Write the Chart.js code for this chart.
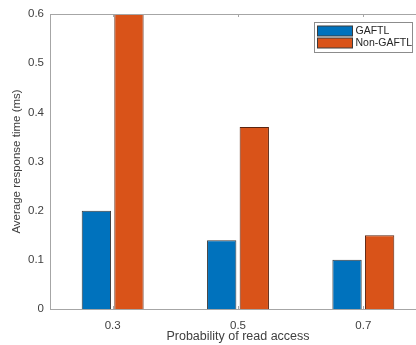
<!DOCTYPE html>
<html>
<head>
<meta charset="utf-8">
<script src="https://cdn.jsdelivr.net/npm/chart.js@4.4.0/dist/chart.umd.min.js"></script>
<style>
  html, body { margin: 0; padding: 0; background: #fff; overflow: hidden; }
</style>
</head>
<body>
<canvas id="chart" width="426" height="345"></canvas>
<script>
const categories = ['0.3', '0.5', '0.7'];
const gaftl = [0.2, 0.14, 0.1];
const nonGaftl = [0.6, 0.37, 0.15];
const yMin = 0, yMax = 0.6, yStep = 0.1;

const axisColor = '#a6a6a6';
const textColor = '#404040';
const font = 'Liberation Sans, Arial, Helvetica, sans-serif';

// matlab style: inward ticks on x, top box line, legend inside the axes
const boxPlugin = {
	id: 'box',
	afterDraw(chart) {
		const ctx = chart.ctx;
		const a = chart.chartArea;
		const x = chart.scales.x;
		ctx.save();
		ctx.strokeStyle = axisColor;
		ctx.lineWidth = 1;
		ctx.beginPath();
		ctx.moveTo(a.left, a.top + 0.5);
		ctx.lineTo(a.right, a.top + 0.5);
		x.ticks.forEach((t, i) => {
			let px = Math.round(x.getPixelForTick(i)) + 0.5;
			ctx.moveTo(px, a.bottom);
			ctx.lineTo(px, a.bottom - 3);
			ctx.moveTo(px, a.top);
			ctx.lineTo(px, a.top + 3);
		});
		ctx.stroke();

		// legend
		let bx = 314.5, by = 22.5, bw = 98, bh = 30;
		ctx.fillStyle = '#fff';
		ctx.fillRect(bx, by, bw, bh);
		ctx.strokeStyle = '#8c8c8c';
		ctx.strokeRect(bx, by, bw, bh);
		ctx.font = '10.5px ' + font;
		ctx.textBaseline = 'middle';
		chart.data.datasets.forEach((ds, i) => {
			let sy = by + 3.5 + i * 12;
			ctx.fillStyle = ds.backgroundColor;
			ctx.fillRect(bx + 3, sy, 35, 10);
			ctx.strokeStyle = '#3c3c3c';
			ctx.strokeRect(bx + 3, sy, 35, 10);
			ctx.fillStyle = '#262626';
			ctx.fillText(ds.label, bx + 41, sy + 5.5);
		});
		ctx.restore();
	}
};

new Chart(document.getElementById('chart'), {
	type: 'bar',
	data: {
		labels: categories,
		datasets: [{
			label: 'GAFTL',
			data: gaftl,
			backgroundColor: '#0072BD',
			borderColor: '#3a3a3a',
			borderWidth: 1,
			categoryPercentage: 0.52,
			barPercentage: 0.9
		},
		{
			label: 'Non-GAFTL',
			data: nonGaftl,
			backgroundColor: '#D95319',
			borderColor: '#5a2410',
			borderWidth: 1,
			categoryPercentage: 0.52,
			barPercentage: 0.9
		}]
	},
	options: {
		responsive: false,
		animation: false,
		layout: { padding: { top: 14, left: 0, right: 0, bottom: 0 } },
		plugins: {
			legend: { display: false },
			tooltip: { enabled: false }
		},
		scales: {
			x: {
				grid: { display: false, drawTicks: false },
				border: { color: axisColor },
				ticks: { color: textColor, font: { family: font, size: 11.5 }, padding: 10 },
				title: {
					display: true,
					text: 'Probability of read access',
					color: textColor,
					font: { family: font, size: 12.5 },
					padding: { top: 0, bottom: 1 }
				},
				afterFit(scale) { scale.height = 36; }
			},
			y: {
				min: yMin,
				max: yMax,
				grid: { display: false, drawTicks: false },
				border: { color: axisColor },
				ticks: {
					stepSize: yStep,
					color: textColor,
					font: { family: font, size: 11.5 },
					padding: 6,
					callback: v => String(+v.toFixed(1))
				},
				title: {
					display: true,
					text: 'Average response time (ms)',
					color: textColor,
					font: { family: font, size: 11.5 },
					padding: { top: 10, bottom: 0 }
				},
				afterFit(scale) { scale.width = 50; }
			}
		}
	},
	plugins: [boxPlugin]
});
</script>
</body>
</html>
